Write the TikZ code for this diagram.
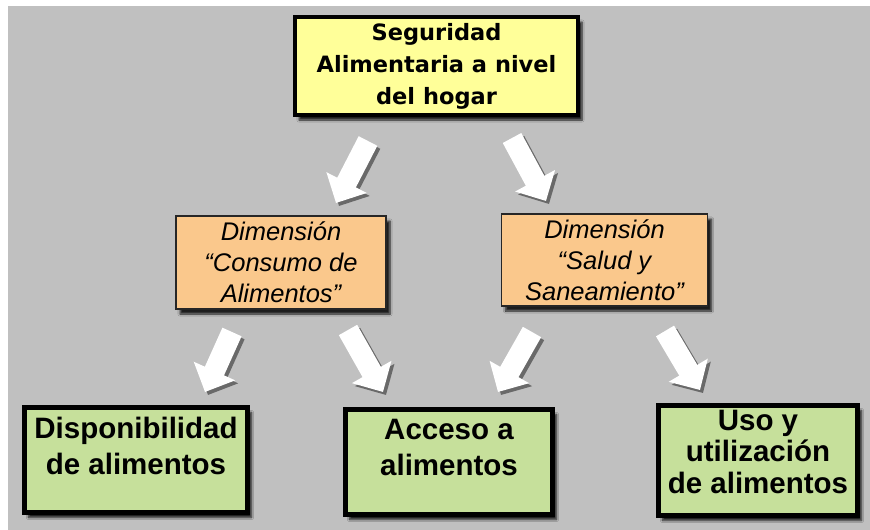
\documentclass[tikz,border=0pt]{standalone}
\usepackage{fontspec}
\setmainfont{Liberation Sans}
\newfontfamily\topfont{DejaVu Sans}
\usetikzlibrary{arrows.meta,shadows.blur}
\definecolor{bg}{RGB}{192,192,192}
\definecolor{ylw}{RGB}{255,255,153}
\definecolor{org}{RGB}{250,200,140}
\definecolor{grn}{RGB}{198,224,155}
\definecolor{ashad}{RGB}{105,105,105}
\begin{document}
\begin{tikzpicture}[x=1pt,y=-1pt,
  shad/.style={blur shadow={shadow xshift=4pt,shadow yshift=-5pt,shadow blur steps=6,shadow opacity=85}},
  topbox/.style={shad, draw=black, line width=4pt, fill=ylw, minimum width=283pt, minimum height=98pt,
    align=center, font=\topfont\bfseries\fontsize{22.5}{32}\selectfont, inner sep=0pt},
  dimbox/.style={shad, draw=black!85, line width=1.5pt, fill=org, align=center,
    font=\itshape\fontsize{25.5}{31}\selectfont, inner sep=0pt},
  resbox/.style={shad, draw=black, line width=5pt, fill=grn, align=center,
    font=\bfseries\fontsize{29.5}{36}\selectfont, inner sep=0pt},
  blk/.style={line width=21pt, white, -{Triangle[length=23pt,width=44pt]}},
  blkshadow/.style={line width=21pt, ashad, -{Triangle[length=23pt,width=44pt]}}]
\useasboundingbox (0,0) rectangle (870,530);
\fill[white] (0,0) rectangle (870,530);
\fill[bg] (8,6) rectangle (870,530);

\node[topbox] (top) at (436.5,66) {Seguridad\\Alimentaria a nivel\\del hogar};

\node[dimbox, minimum width=210pt, minimum height=93pt] (dcons) at (281,262.5)
  {Dimensión\\“Consumo de\\Alimentos”};
\node[dimbox, minimum width=206pt, minimum height=92pt] (dsal) at (604.5,260)
  {Dimensión\\“Salud y\\Saneamiento”};

\node[resbox, minimum width=223pt, minimum height=105pt] (disp) at (136,460)
  {Disponibilidad\\de alimentos\\[-8pt]\mbox{}};
\node[resbox, minimum width=207pt, minimum height=105pt] (acc) at (449,462)
  {Acceso a\\alimentos\\[-6pt]\mbox{}};
\node[resbox, minimum width=199pt, minimum height=110pt, font=\bfseries\fontsize{29.5}{31.5}\selectfont] (uso) at (758,460.5)
  {Uso y\\utilización\\de alimentos\\[-14pt]\mbox{}};

\coordinate (a1s) at (368,141); \coordinate (a1t) at (336,203);
\coordinate (a2s) at (512,138); \coordinate (a2t) at (546,201);
\coordinate (a3s) at (232,332); \coordinate (a3t) at (205,392);
\coordinate (a4s) at (348,330); \coordinate (a4t) at (383,392);
\coordinate (a5s) at (532,332); \coordinate (a5t) at (498,392);
\coordinate (a6s) at (665,331); \coordinate (a6t) at (700,390);

\foreach \s/\t in {a1s/a1t,a2s/a2t,a3s/a3t,a4s/a4t,a5s/a5t,a6s/a6t}{
  \draw[blkshadow, transform canvas={shift={(3pt,-3pt)}}] (\s) -- (\t);
  \draw[blk] (\s) -- (\t);
}
\end{tikzpicture}
\end{document}
